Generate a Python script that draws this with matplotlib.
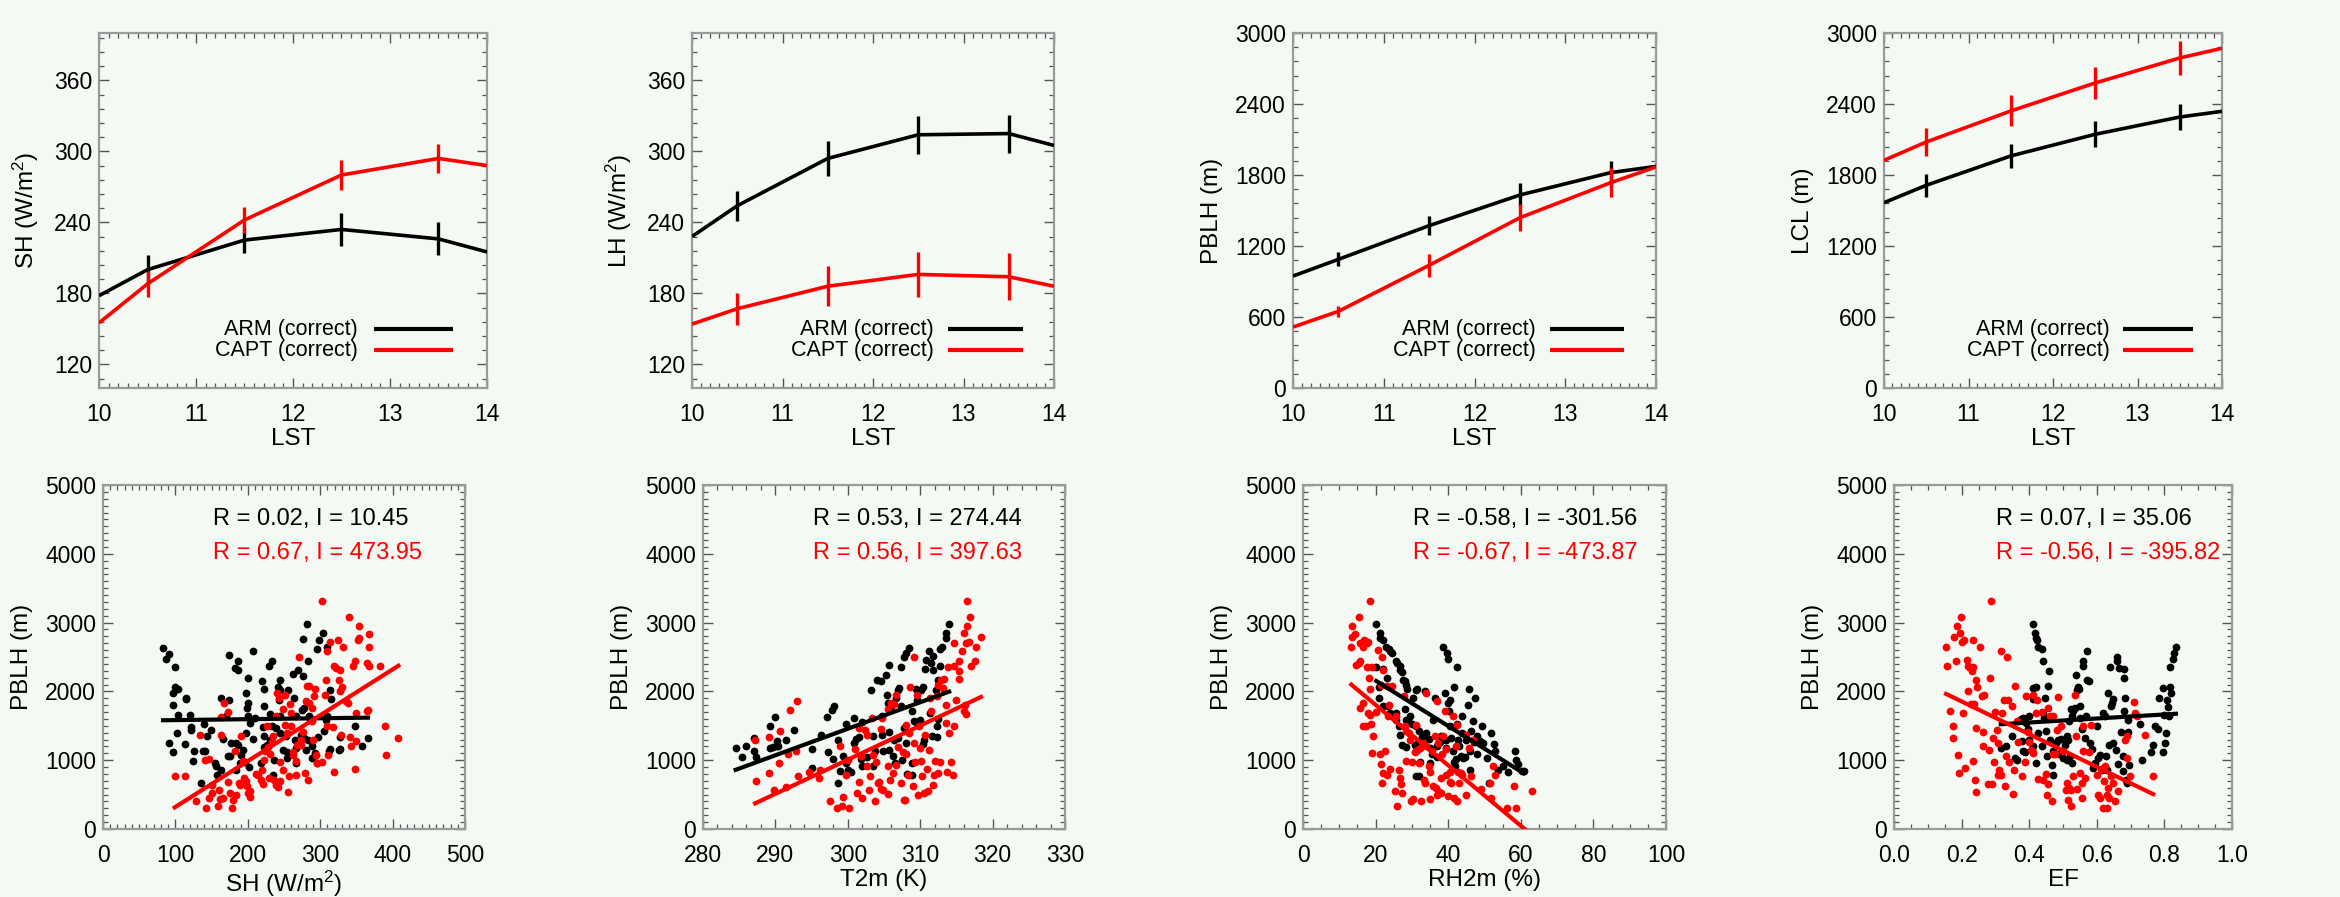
import numpy as np
import matplotlib
matplotlib.use("Agg")
import matplotlib.pyplot as plt
from matplotlib.ticker import MultipleLocator, FormatStrFormatter

# ==========================
# Style
# ==========================
BG = "#f5f9f4"
RED = "#ff0000"
BLACK = "#000000"
FRAME = "#9a9a9a"
TICK = "#555555"

plt.rcParams["font.family"] = ["Liberation Sans", "DejaVu Sans"]
plt.rcParams["mathtext.fontset"] = "custom"
plt.rcParams["mathtext.rm"] = "Liberation Sans"
plt.rcParams["mathtext.it"] = "Liberation Sans"
plt.rcParams["font.size"] = 15.5
plt.rcParams["xtick.labelsize"] = 16.5
plt.rcParams["ytick.labelsize"] = 16.5
plt.rcParams["axes.labelsize"] = 17.5

# ==========================
# Data: diurnal composites (top row)
# ==========================
lst = [10, 10.5, 11.5, 12.5, 13.5, 14]
lst_err = [10.5, 11.5, 12.5, 13.5]

sh_arm = [178, 200, 225, 234, 226, 215]
sh_capt = [155, 188, 242, 280, 294, 288]
sh_arm_err = [12, 11, 14, 14]
sh_capt_err = [11, 11, 12.5, 12.5]

lh_arm = [228, 254, 294, 314, 315, 305]
lh_capt = [154, 167, 186, 196, 194, 186]
lh_arm_err = [12.5, 15, 16, 16]
lh_capt_err = [13.5, 17, 19, 20]

pblh_arm = [946, 1087, 1372, 1631, 1820, 1873]
pblh_capt = [515, 648, 1037, 1439, 1735, 1868]
pblh_arm_err = [59, 79, 99, 96]
pblh_capt_err = [48, 96, 113, 122]

lcl_arm = [1566, 1713, 1961, 2144, 2290, 2338]
lcl_capt = [1924, 2079, 2341, 2578, 2789, 2871]
lcl_arm_err = [96, 103, 110, 113]
lcl_capt_err = [120, 131, 138, 141]

legend_labels = ["ARM (correct)", "CAPT (correct)"]

# ==========================
# Data: PBLH vs. surface variables (bottom row), (x, PBLH) pairs
# ==========================
sh_pblh_arm = [(83, 2638), (87, 2468), (91, 2546), (100, 2352), (97, 1975), (100, 2071), (104, 2042), (97, 1805),
               (104, 1650), (102, 1394), (91, 1249), (96, 1113), (114, 1888), (115, 1902), (120, 1650), (121, 1442),
               (122, 1481), (113, 1234), (125, 1128), (124, 992), (135, 668), (140, 1529), (143, 1345), (138, 1128),
               (141, 1128), (149, 1433), (155, 958), (156, 910), (157, 789), (163, 1902), (166, 1312), (163, 852),
               (174, 2522), (174, 1878), (170, 1636), (173, 1055), (176, 1055), (177, 1249), (183, 2343), (187, 2439),
               (186, 2314), (184, 1249), (186, 1220), (184, 852), (189, 958), (191, 1079), (198, 1984), (199, 1757),
               (200, 1830), (200, 1636), (203, 1539), (198, 1394), (193, 1152), (196, 968), (202, 900), (200, 2193),
               (207, 2580), (210, 1607), (207, 1307), (218, 958), (220, 2154), (222, 2033), (222, 1791), (221, 1476),
               (223, 1345), (223, 1186), (227, 1225), (229, 2372), (234, 2449), (231, 1675), (233, 1491), (231, 1297),
               (235, 779), (236, 1007), (242, 2071), (244, 2159), (244, 2023), (243, 1878), (244, 1636), (239, 1467),
               (244, 1394), (248, 1152), (253, 1355), (256, 2023), (254, 1118), (254, 1031), (262, 2251), (264, 1902),
               (266, 1636), (265, 1297), (266, 1176), (267, 958), (269, 2304), (274, 1370), (275, 1733), (276, 2226),
               (276, 2759), (277, 1757), (277, 1321), (280, 1152), (282, 2977), (283, 2435), (283, 1297), (285, 1646),
               (286, 1597), (289, 1210), (288, 1031), (293, 1104), (295, 958), (296, 2614), (297, 1336), (299, 2740),
               (304, 2846), (309, 2652), (309, 1636), (308, 1588), (305, 1418), (313, 2023), (315, 1888), (313, 1166),
               (312, 1128), (327, 1162), (328, 1336), (326, 1152), (348, 1500), (358, 1200), (366, 1321)]
sh_pblh_capt = [(99, 774), (113, 774), (129, 402), (134, 1370), (142, 305), (141, 1007), (147, 1016), (146, 450),
                (151, 523), (151, 644), (159, 329), (160, 571), (161, 436), (163, 1626), (163, 1360), (166, 450),
                (167, 1830), (173, 1699), (172, 678), (175, 523), (178, 305), (180, 426), (184, 498), (183, 1128),
                (188, 668), (189, 644), (191, 1355), (193, 983), (195, 740), (198, 692), (199, 620), (200, 523),
                (203, 465), (203, 547), (211, 794), (214, 779), (218, 716), (219, 861), (221, 653), (223, 1007),
                (224, 1128), (227, 1491), (228, 1191), (229, 740), (230, 1089), (233, 1258), (235, 1345), (236, 716),
                (239, 1636), (239, 644), (242, 605), (244, 692), (240, 1975), (243, 1902), (244, 968), (248, 1743),
                (249, 852), (251, 1950), (252, 1515), (254, 1394), (256, 532), (257, 774), (258, 1815), (259, 1491),
                (260, 1684), (262, 1079), (263, 1113), (266, 983), (267, 789), (268, 1225), (271, 2497), (273, 1225),
                (274, 1297), (276, 1404), (279, 813), (280, 1854), (282, 2081), (283, 716), (285, 1830), (285, 2081),
                (288, 1757), (288, 1563), (290, 1297), (291, 1936), (293, 2033), (294, 1079), (295, 958), (303, 3315),
                (303, 968), (306, 1950), (308, 2168), (309, 2580), (309, 1491), (311, 1079), (313, 2725), (318, 1476),
                (319, 2362), (319, 823), (322, 2338), (325, 2740), (326, 2168), (327, 2314), (328, 1999), (329, 1370),
                (330, 2071), (332, 2643), (336, 1854), (338, 1830), (340, 3088), (341, 1336), (343, 1210), (345, 2362),
                (348, 2449), (349, 1684), (348, 876), (350, 1273), (352, 2740), (354, 2952), (354, 2773), (364, 1708),
                (365, 2410), (366, 1733), (367, 2362), (368, 2836), (368, 2643), (382, 2362), (390, 1500), (391, 1079),
                (408, 1321)]

t2m_pblh_arm = [(284.5, 1176), (285.4, 1041), (285.9, 1210), (287.0, 1321), (287.0, 1128), (287.3, 1045),
                (289.2, 1500), (289.9, 1621), (289.2, 1176), (289.6, 1186), (290.3, 1210), (290.2, 1273),
                (290.2, 1210), (291.4, 1287), (292.5, 1433), (295.1, 1162), (295.0, 886), (296.3, 1370),
                (297.1, 1621), (297.8, 1733), (298.1, 1781), (297.2, 1113), (297.9, 1016), (298.6, 668),
                (298.9, 837), (298.7, 1297), (299.7, 1529), (299.4, 1065), (299.8, 958), (300.0, 852),
                (300.5, 828), (300.8, 1612), (300.8, 1249), (301.2, 1307), (301.6, 1336), (302.0, 1549),
                (301.8, 1016), (302.0, 910), (302.7, 1045), (303.2, 2023), (303.5, 920), (303.5, 1345),
                (303.8, 1128), (304.1, 2168), (304.6, 2144), (304.7, 1636), (304.7, 1370), (304.9, 1128),
                (305.3, 2241), (305.4, 1950), (305.6, 1830), (305.7, 2386), (305.7, 1404), (305.7, 1152),
                (306.0, 1733), (306.2, 1055), (306.4, 1297), (306.5, 958), (306.6, 1902), (306.9, 2023),
                (306.9, 1321), (307.1, 2047), (307.3, 2352), (307.4, 1791), (307.5, 1007), (307.7, 1467),
                (307.8, 2507), (308.0, 2555), (308.1, 1249), (308.4, 2638), (308.2, 803), (308.8, 1708),
                (308.9, 958), (308.9, 789), (309.1, 1563), (309.4, 2033), (309.5, 1868), (309.6, 1539),
                (310.0, 1588), (310.1, 2023), (310.4, 2071), (310.4, 1239), (310.5, 1287), (310.7, 2323),
                (310.8, 2459), (311.2, 2580), (311.3, 1684), (311.5, 2420), (311.6, 1345), (311.7, 2517),
                (311.8, 2314), (312.2, 2023), (312.3, 1336), (312.5, 2168), (312.7, 2362), (312.8, 2614),
                (313.0, 2652), (313.5, 2856), (313.6, 2773), (314.0, 2977), (312.3, 1491), (312.4, 1597)]
t2m_pblh_capt = [(287.3, 692), (287.2, 1297), (289.1, 813), (289.1, 1336), (289.8, 571), (290.5, 958),
                 (290.6, 1428), (291.5, 605), (292.0, 1733), (291.7, 1094), (293.0, 1854), (292.9, 1128),
                 (293.1, 765), (294.7, 823), (296.0, 740), (296.2, 861), (297.6, 402), (298.5, 305),
                 (299.2, 329), (299.3, 465), (300.1, 305), (298.9, 1210), (299.7, 789), (300.0, 1007),
                 (301.0, 1162), (301.3, 523), (301.6, 678), (301.9, 450), (301.5, 1467), (301.8, 1065),
                 (302.4, 1442), (302.6, 1370), (302.7, 910), (302.9, 561), (303.0, 774), (303.3, 1612),
                 (303.5, 1079), (303.8, 402), (303.9, 968), (304.2, 668), (304.3, 678), (304.6, 581),
                 (304.6, 1452), (304.7, 1612), (304.9, 571), (305.5, 508), (305.6, 1742), (305.6, 920),
                 (305.8, 716), (306.0, 1830), (306.3, 813), (306.4, 1820), (306.6, 934), (306.7, 1950),
                 (307.0, 1186), (307.4, 668), (307.6, 1113), (307.8, 416), (307.9, 426), (308.0, 1515),
                 (308.1, 1094), (308.3, 789), (308.4, 1394), (308.6, 2071), (309.0, 620), (309.1, 1249),
                 (309.2, 2507), (309.3, 968), (309.5, 1950), (309.7, 498), (309.8, 1491), (310.0, 1176),
                 (310.1, 983), (310.2, 765), (310.5, 523), (310.7, 1370), (311.0, 871), (311.1, 547),
                 (311.2, 1152), (311.3, 1902), (311.5, 1708), (311.8, 644), (311.9, 789), (312.1, 983),
                 (312.3, 1926), (312.4, 813), (312.5, 2096), (312.7, 968), (312.9, 2168), (313.1, 2047),
                 (313.3, 2178), (313.5, 1806), (313.6, 1539), (313.7, 823), (313.9, 2352), (314.0, 1394),
                 (314.2, 968), (314.5, 789), (314.6, 1500), (314.7, 2710), (314.7, 2362), (315.0, 1878),
                 (315.3, 2178), (315.3, 2449), (315.4, 2290), (315.8, 2590), (316.0, 1708), (316.1, 2846),
                 (316.2, 1806), (316.3, 2710), (316.5, 2952), (316.5, 3315), (316.9, 3088), (316.8, 2725),
                 (317.0, 2372), (316.3, 1675), (317.6, 2435), (317.7, 2652), (318.4, 2797)]

rh_pblh_arm = [(20.2, 2981), (21.3, 2856), (21.3, 2783), (22.1, 2749), (23.0, 2652), (23.7, 2614), (24.1, 2580),
               (24.6, 2556), (25.6, 2449), (25.9, 2420), (26.7, 2362), (26.8, 2314), (27.4, 2275), (27.6, 2168),
               (28.0, 2144), (28.5, 2096), (28.7, 2033), (20.2, 2352), (21.0, 2071), (20.8, 1902), (22.1, 1791),
               (23.2, 2193), (22.1, 2323), (23.4, 1781), (23.9, 1684), (24.4, 1636), (25.6, 1684), (25.7, 1588),
               (26.5, 1491), (26.8, 1370), (27.4, 1225), (28.3, 1191), (28.0, 1742), (28.5, 1588), (29.0, 1578),
               (29.6, 1636), (30.1, 1529), (30.3, 1902), (31.0, 2023), (31.4, 2033), (31.2, 1491), (32.0, 1418),
               (30.8, 1225), (31.7, 1249), (32.2, 968), (31.2, 774), (32.0, 774), (32.9, 1336), (33.5, 2013),
               (34.0, 1394), (34.7, 1307), (34.9, 1176), (35.4, 1094), (35.1, 958), (35.8, 1578), (36.3, 1902),
               (36.8, 1210), (36.9, 1045), (37.7, 1258), (37.9, 1355), (38.6, 2643), (39.1, 1975), (39.3, 1297),
               (39.5, 1176), (39.8, 2556), (40.0, 2468), (40.0, 1830), (40.3, 1708), (40.4, 1878), (40.6, 1491),
               (40.9, 1321), (41.4, 1128), (41.5, 968), (41.8, 920), (42.1, 1016), (41.5, 2071), (42.3, 2352),
               (42.5, 1529), (42.7, 1287), (43.0, 1200), (43.4, 1065), (43.7, 1636), (43.9, 1394), (44.1, 1031),
               (44.6, 1045), (45.0, 1297), (45.5, 1806), (45.8, 2033), (46.1, 852), (46.1, 1128), (46.4, 1418),
               (46.7, 1563), (47.1, 1258), (47.3, 1902), (47.8, 1094), (48.0, 1355), (48.7, 1273), (49.4, 1491),
               (49.6, 1249), (50.6, 1031), (51.3, 668), (51.7, 1394), (52.6, 1239), (52.8, 1128), (53.8, 852),
               (55.0, 920), (56.5, 823), (58.4, 1128), (58.7, 997), (59.3, 949), (60.2, 837), (60.8, 837)]
rh_pblh_capt = [(13.3, 2652), (13.6, 2957), (13.5, 2797), (14.2, 2836), (15.4, 3088), (14.7, 2386), (15.4, 2410),
                (15.8, 2449), (15.8, 2710), (16.5, 2643), (16.8, 2740), (17.5, 2710), (18.4, 3315), (17.9, 2725),
                (17.5, 2352), (18.2, 2193), (18.4, 2033), (19.1, 2352), (20.7, 2604), (21.8, 2497), (22.1, 2314),
                (21.6, 2096), (23.2, 2081), (24.6, 2081), (15.6, 1757), (16.5, 1830), (16.5, 1491), (17.3, 1500),
                (17.9, 1684), (18.4, 1660), (18.8, 1529), (19.3, 1345), (20.2, 1694), (19.1, 1104), (21.3, 1094),
                (21.6, 949), (22.1, 813), (21.9, 668), (22.6, 1128), (23.2, 789), (23.4, 1646), (23.7, 1806),
                (24.1, 871), (25.3, 547), (25.7, 1636), (26.0, 329), (26.5, 861), (26.8, 740), (27.1, 653),
                (27.4, 523), (27.8, 1926), (28.0, 1491), (28.5, 1418), (28.3, 983), (29.2, 1394), (29.4, 1297),
                (29.7, 402), (29.9, 968), (30.3, 436), (30.8, 1113), (31.2, 1515), (31.4, 1152), (32.0, 958),
                (32.4, 402), (32.2, 1176), (33.0, 1249), (33.3, 716), (33.5, 668), (33.8, 1210), (34.0, 1975),
                (34.7, 910), (34.9, 823), (35.1, 436), (35.4, 1128), (35.7, 629), (36.3, 1345), (36.6, 595),
                (36.8, 498), (36.9, 1854), (37.2, 1249), (37.5, 532), (37.9, 740), (38.1, 523), (38.4, 1094),
                (38.6, 1345), (39.1, 1708), (39.3, 789), (39.5, 1162), (40.0, 474), (40.4, 678), (40.6, 823),
                (40.9, 668), (41.4, 1636), (41.5, 450), (42.1, 1200), (42.3, 1515), (42.5, 402), (42.7, 823),
                (43.0, 668), (43.4, 813), (43.9, 789), (44.9, 498), (45.0, 1370), (45.8, 1176), (46.4, 774),
                (46.7, 1287), (48.9, 581), (51.5, 668), (51.9, 450), (52.4, 920), (52.8, 789), (56.1, 305),
                (58.1, 629), (58.6, 305), (63.0, 547)]

ef_pblh_arm = [(0.412, 2977), (0.417, 2856), (0.420, 2783), (0.422, 2740), (0.427, 2643), (0.437, 2614),
               (0.440, 2449), (0.460, 2299), (0.457, 2081), (0.447, 1902), (0.412, 2047), (0.420, 2071),
               (0.410, 1888), (0.400, 1646), (0.383, 1612), (0.375, 1597), (0.391, 1539), (0.331, 1200),
               (0.316, 1176), (0.348, 1345), (0.358, 1031), (0.363, 1007), (0.378, 1273), (0.383, 1128),
               (0.387, 1113), (0.395, 1452), (0.400, 1297), (0.407, 1152), (0.412, 1200), (0.420, 958),
               (0.427, 1394), (0.437, 1200), (0.442, 1684), (0.444, 1612), (0.450, 1418), (0.452, 1055),
               (0.461, 1297), (0.466, 934), (0.471, 789), (0.471, 1128), (0.479, 1249), (0.486, 1297),
               (0.489, 1094), (0.493, 1307), (0.501, 1031), (0.506, 1225), (0.511, 1345), (0.513, 997),
               (0.521, 1055), (0.526, 958), (0.516, 1297), (0.519, 1563), (0.524, 1742), (0.526, 1636),
               (0.531, 1708), (0.536, 1757), (0.538, 2241), (0.540, 2023), (0.545, 2062), (0.548, 2033),
               (0.550, 1791), (0.550, 1612), (0.555, 1452), (0.558, 2372), (0.560, 2435), (0.566, 1321),
               (0.568, 1636), (0.570, 2580), (0.570, 2168), (0.578, 2154), (0.580, 1249), (0.585, 1162),
               (0.590, 886), (0.595, 958), (0.600, 1491), (0.605, 1031), (0.609, 1079), (0.614, 861),
               (0.617, 1684), (0.621, 886), (0.624, 1636), (0.627, 1065), (0.629, 861), (0.634, 1984),
               (0.637, 1225), (0.639, 2352), (0.641, 1781), (0.644, 1830), (0.647, 1888), (0.649, 1249),
               (0.656, 1152), (0.659, 2507), (0.661, 2449), (0.664, 949), (0.667, 2338), (0.671, 1404),
               (0.677, 1055), (0.678, 837), (0.680, 2193), (0.680, 2323), (0.680, 1708), (0.683, 1902),
               (0.686, 716), (0.688, 668), (0.693, 1404), (0.696, 934), (0.693, 1578), (0.733, 997),
               (0.728, 1529), (0.759, 1113), (0.767, 1225), (0.772, 1500), (0.782, 1452), (0.785, 1902),
               (0.795, 2047), (0.795, 1113), (0.802, 1249), (0.805, 1394), (0.799, 1660), (0.809, 1868),
               (0.812, 1771), (0.817, 2062), (0.814, 1646), (0.821, 1975), (0.817, 2352), (0.824, 2468),
               (0.828, 2556), (0.834, 2643)]
ef_pblh_capt = [(0.154, 2652), (0.156, 2372), (0.166, 1713), (0.174, 1500), (0.176, 1321), (0.178, 2797),
                (0.186, 2952), (0.183, 2435), (0.190, 1079), (0.192, 813), (0.195, 2846), (0.197, 3088),
                (0.200, 2725), (0.203, 1684), (0.207, 2740), (0.210, 886), (0.215, 2459), (0.218, 2372),
                (0.220, 1999), (0.223, 2352), (0.227, 1820), (0.230, 2290), (0.233, 2740), (0.235, 2352),
                (0.235, 983), (0.237, 1820), (0.240, 707), (0.242, 532), (0.243, 2168), (0.243, 1467),
                (0.245, 2062), (0.254, 2643), (0.259, 1926), (0.262, 1404), (0.262, 1200), (0.267, 1950),
                (0.279, 653), (0.282, 1142), (0.284, 2193), (0.286, 3315), (0.289, 653), (0.292, 1321),
                (0.296, 968), (0.299, 1694), (0.304, 1442), (0.309, 1249), (0.309, 789), (0.312, 861),
                (0.316, 789), (0.316, 2580), (0.321, 1684), (0.324, 1868), (0.328, 620), (0.331, 1065),
                (0.335, 2497), (0.338, 1878), (0.341, 968), (0.348, 1781), (0.351, 513), (0.355, 852),
                (0.358, 2081), (0.365, 1563), (0.368, 1258), (0.380, 765), (0.387, 968), (0.391, 1926),
                (0.395, 1404), (0.399, 1258), (0.405, 1142), (0.410, 1104), (0.412, 1950), (0.420, 1684),
                (0.422, 1868), (0.427, 726), (0.437, 1694), (0.442, 716), (0.450, 803), (0.452, 498),
                (0.457, 658), (0.457, 1757), (0.461, 1636), (0.466, 402), (0.471, 1094), (0.471, 1636),
                (0.476, 1094), (0.483, 1442), (0.486, 1916), (0.493, 1491), (0.501, 1128), (0.509, 571),
                (0.511, 668), (0.516, 416), (0.519, 595), (0.523, 329), (0.523, 571), (0.531, 774),
                (0.536, 1950), (0.538, 1355), (0.542, 581), (0.550, 813), (0.555, 450), (0.555, 668),
                (0.558, 1128), (0.560, 1500), (0.566, 740), (0.578, 1113), (0.582, 1515), (0.600, 789),
                (0.605, 498), (0.608, 450), (0.611, 871), (0.619, 305), (0.621, 692), (0.624, 920),
                (0.629, 305), (0.631, 498), (0.634, 595), (0.637, 450), (0.641, 765), (0.647, 668),
                (0.654, 402), (0.664, 547), (0.683, 1297), (0.688, 1031), (0.690, 1355), (0.698, 774),
                (0.710, 1839), (0.713, 1684), (0.720, 1636), (0.743, 1370), (0.767, 774)]

# correlation / impact annotations
stat_r_arm = [0.02, 0.53, -0.58, 0.07]
stat_i_arm = [10.45, 274.44, -301.56, 35.06]
stat_r_capt = [0.67, 0.56, -0.67, -0.56]
stat_i_capt = [473.95, 397.63, -473.87, -395.82]

# ==========================
# Helpers
# ==========================
fig = plt.figure(figsize=(23.4, 8.97), dpi=100, facecolor=BG)
W, H = 2340.0, 897.0


def make_axes(x0, x1, ytop, ybot):
    ax = fig.add_axes([x0 / W, 1 - ybot / H, (x1 - x0) / W, (ybot - ytop) / H])
    ax.set_facecolor(BG)
    for s in ax.spines.values():
        s.set_color(FRAME)
        s.set_linewidth(1.6)
    ax.tick_params(which="both", direction="in", top=True, right=True, color=TICK, labelcolor=BLACK)
    ax.tick_params(which="major", length=7, width=1.0)
    ax.tick_params(which="minor", length=3.5, width=0.9)
    ax.tick_params(axis="x", pad=11)
    ax.tick_params(axis="y", pad=5)
    return ax


def diurnal_panel(box, arm, capt, arm_err, capt_err, ylabel, ylim, ymaj, ymin):
    ax = make_axes(*box)
    arm = np.asarray(arm, float)
    capt = np.asarray(capt, float)
    ax.plot(lst, arm, color=BLACK, lw=2.6, solid_capstyle="butt", zorder=3)
    ax.plot(lst, capt, color=RED, lw=2.6, solid_capstyle="butt", zorder=3)
    ax.errorbar(lst_err, arm[1:5], yerr=arm_err, fmt="none", ecolor=BLACK, elinewidth=2.4, capsize=0, zorder=3)
    ax.errorbar(lst_err, capt[1:5], yerr=capt_err, fmt="none", ecolor=RED, elinewidth=2.4, capsize=0, zorder=3)
    ax.set_xlim(10, 14)
    ax.set_ylim(*ylim)
    ax.xaxis.set_major_locator(MultipleLocator(1))
    ax.xaxis.set_minor_locator(MultipleLocator(0.1))
    ax.yaxis.set_major_locator(MultipleLocator(ymaj))
    ax.yaxis.set_minor_locator(MultipleLocator(ymin))
    if ylim[0] == 100:
        ax.set_yticks([120, 180, 240, 300, 360])
    ax.set_xlabel("LST", labelpad=1)
    ax.set_ylabel(ylabel, labelpad=9)
    # legend drawn by hand so the labels are right-aligned like the original
    for yy, lab, col in zip([0.166, 0.107], legend_labels, [BLACK, RED]):
        ax.text(0.668, yy, lab, ha="right", va="center", transform=ax.transAxes)
        ax.plot([0.708, 0.913], [yy, yy], color=col, lw=3, transform=ax.transAxes, solid_capstyle="butt")
    return ax


def scatter_panel(box, arm_pts, capt_pts, xlabel, xlim, xmaj, xmin, k, fmt=None):
    ax = make_axes(*box)
    xa, ya = np.array(arm_pts, float).T
    xc, yc = np.array(capt_pts, float).T
    ax.plot(xa, ya, "o", color=BLACK, ms=5.6, mew=0, zorder=2)
    ax.plot(xc, yc, "o", color=RED, ms=5.6, mew=0, zorder=2)
    for xx, yy, col in [(xa, ya, BLACK), (xc, yc, RED)]:
        b, a = np.polyfit(xx, yy, 1)
        xs = np.array([xx.min(), xx.max()])
        ax.plot(xs, a + b * xs, color=col, lw=3, zorder=3)
    ax.set_xlim(*xlim)
    ax.set_ylim(0, 5000)
    ax.xaxis.set_major_locator(MultipleLocator(xmaj))
    ax.xaxis.set_minor_locator(MultipleLocator(xmin))
    ax.yaxis.set_major_locator(MultipleLocator(1000))
    ax.yaxis.set_minor_locator(MultipleLocator(100))
    if fmt:
        ax.xaxis.set_major_formatter(FormatStrFormatter(fmt))
    ax.set_xlabel(xlabel, labelpad=1)
    ax.set_ylabel("PBLH (m)", labelpad=9)
    ax.text(0.303, 0.90, f"R = {stat_r_arm[k]:.2f}, I = {stat_i_arm[k]:.2f}", color=BLACK,
            ha="left", va="center", fontsize=17, transform=ax.transAxes)
    ax.text(0.303, 0.802, f"R = {stat_r_capt[k]:.2f}, I = {stat_i_capt[k]:.2f}", color=RED,
            ha="left", va="center", fontsize=17, transform=ax.transAxes)
    return ax


# ==========================
# Top row
# ==========================
diurnal_panel((99, 487, 33, 388), sh_arm, sh_capt, sh_arm_err, sh_capt_err,
              "SH (W/m$^{2}$)", (100, 400), 60, 12)
diurnal_panel((692, 1054, 33, 388), lh_arm, lh_capt, lh_arm_err, lh_capt_err,
              "LH (W/m$^{2}$)", (100, 400), 60, 12)
diurnal_panel((1293, 1656, 33, 388), pblh_arm, pblh_capt, pblh_arm_err, pblh_capt_err,
              "PBLH (m)", (0, 3000), 600, 120)
diurnal_panel((1884, 2222, 33, 388), lcl_arm, lcl_capt, lcl_arm_err, lcl_capt_err,
              "LCL (m)", (0, 3000), 600, 120)

# ==========================
# Bottom row
# ==========================
scatter_panel((103, 465, 485, 829), sh_pblh_arm, sh_pblh_capt, "SH (W/m$^{2}$)", (0, 500), 100, 10, 0)
scatter_panel((703, 1065, 485, 829), t2m_pblh_arm, t2m_pblh_capt, "T2m (K)", (280, 330), 10, 2, 1)
scatter_panel((1303, 1666, 485, 829), rh_pblh_arm, rh_pblh_capt, "RH2m (%)", (0, 100), 20, 5, 2)
scatter_panel((1894, 2232, 485, 829), ef_pblh_arm, ef_pblh_capt, "EF", (0, 1), 0.2, 0.05, 3, fmt="%.1f")

fig.savefig("out.png", dpi=100, facecolor=BG)
